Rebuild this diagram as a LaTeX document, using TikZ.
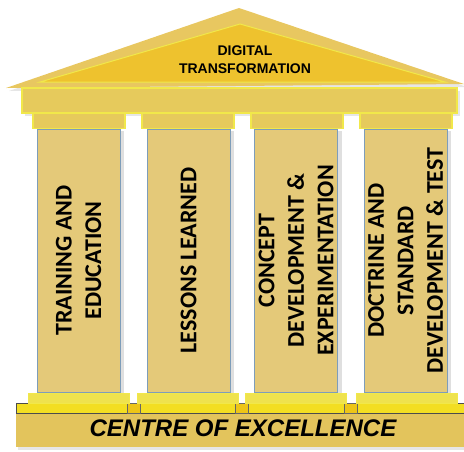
\documentclass[tikz,border=0pt]{standalone}
\usepackage{fontspec}
\usetikzlibrary{shadows}
\newfontfamily\pillarfont{Carlito}
\newfontfamily\roofont{Liberation Sans}

\definecolor{rooffill}{HTML}{E8C760}
\definecolor{roofinner}{HTML}{EEC22E}
\definecolor{beamfill}{HTML}{E6CA5C}
\definecolor{glow}{HTML}{F1E84A}
\definecolor{shaftfill}{HTML}{E4C979}
\definecolor{shaftline}{HTML}{7E9DBA}
\definecolor{plinthfill}{HTML}{E3C45C}
\definecolor{stripfill}{HTML}{F3DE22}
\definecolor{gapfill}{HTML}{EDC517}

\tikzset{
  shaft/.style={draw=shaftline, fill=shaftfill, rotate=90, minimum width=263pt,
    minimum height=83pt, inner sep=0pt, align=center,
    font=\pillarfont\bfseries\fontsize{24}{29.5}\selectfont,
    drop shadow={opacity=.25, shadow xshift=4pt, shadow yshift=-2pt}},
  capital/.style={draw=glow, fill=beamfill, line width=1.5pt, minimum width=92pt,
    minimum height=15pt, inner sep=0pt},
  footing/.style={draw=glow, fill=glow!80!beamfill, line width=1pt, minimum width=101pt,
    minimum height=10pt, inner sep=0pt},
  gap/.style={draw=black!60, fill=gapfill, line width=.4pt, minimum width=13pt,
    minimum height=10pt, inner sep=0pt}
}

\begin{document}
\begin{tikzpicture}[x=1pt,y=-1pt]
   \useasboundingbox (0,0) rectangle (464,451);

   % roof
   \fill[rooffill, drop shadow={opacity=.2, shadow xshift=3pt, shadow yshift=-3pt}]
     (6,88) -- (239,8) -- (464,84) -- cycle;
   \fill[roofinner, draw=glow, line width=1pt] (40,82) -- (240,24) -- (445,82) -- cycle;
   \node[font=\roofont\bfseries\fontsize{14}{18}\selectfont, align=center] (roof) at (245,60)
     {DIGITAL\\TRANSFORMATION};

   % beam
   \node[draw=glow, fill=beamfill, line width=2pt, minimum width=435pt, minimum height=25pt,
     inner sep=0pt, drop shadow={opacity=.2, shadow xshift=3pt, shadow yshift=-3pt}]
     (beam) at (239.5,100.5) {};

   \node[capital] (cap1) at (79,121) {};
   \node[capital] (cap2) at (188,121) {};
   \node[capital] (cap3) at (297,121) {};
   \node[capital] (cap4) at (406,121) {};

   \node[shaft] (col1) at (78.5,260.5) {TRAINING AND\\EDUCATION};
   \node[shaft] (col2) at (188.5,260.5) {LESSONS LEARNED};
   \node[shaft] (col3) at (296,260.5) {CONCEPT\\DEVELOPMENT \&\\EXPERIMENTATION};
   \node[shaft] (col4) at (405.5,260.5) {DOCTRINE AND\\STANDARD\\DEVELOPMENT \& TEST};

   % plinth
   \node[fill=plinthfill, minimum width=448pt, minimum height=44pt, inner sep=0pt,
     drop shadow={opacity=.2, shadow xshift=2pt, shadow yshift=-3pt}] (plinth) at (240,425) {};
   \node[draw=black!70, fill=stripfill, line width=.5pt, minimum width=448pt, minimum height=10pt,
     inner sep=0pt] (strip) at (240,408) {};
   \node[gap] (gap1) at (133.5,408) {};
   \node[gap] (gap2) at (242,408) {};
   \node[gap] (gap3) at (350.5,408) {};
   \node[font=\roofont\bfseries\itshape\fontsize{24}{28}\selectfont] (coe) at (243,428)
     {CENTRE OF EXCELLENCE};

   \node[footing] (base1) at (79,398) {};
   \node[footing] (base2) at (187.5,398) {};
   \node[footing] (base3) at (296,398) {};
   \node[footing] (base4) at (407,398) {};
\end{tikzpicture}
\end{document}
